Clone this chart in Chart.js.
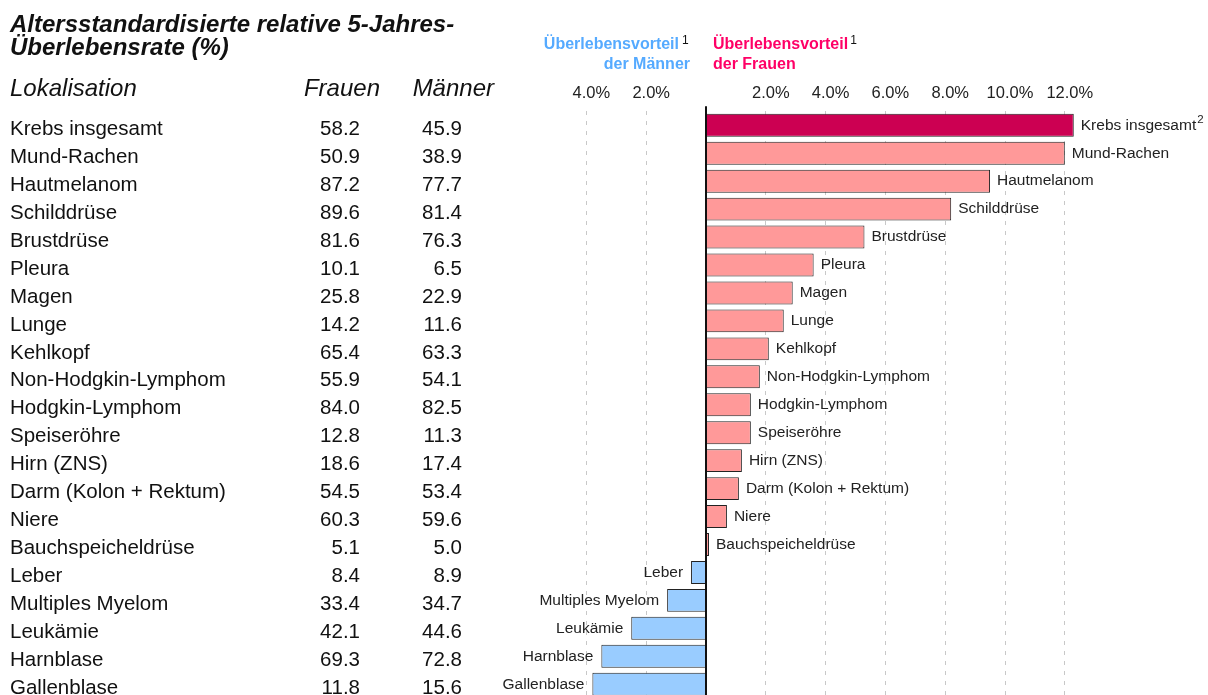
<!DOCTYPE html>
<html lang="de">
<head>
<meta charset="utf-8">
<title>Überlebensvorteil Frauen / Männer</title>
<script src="https://cdn.jsdelivr.net/npm/chart.js@4.4.1/dist/chart.umd.min.js"></script>
<style>
    html, body { margin: 0; padding: 0; background: #fff; overflow: hidden; }
    #wrap { width: 1208px; height: 700px; }
</style>
</head>
<body>
<div id="wrap"><canvas id="survivalChart" width="1208" height="700"></canvas></div>
<script>
const sites = ["Krebs insgesamt", "Mund-Rachen", "Hautmelanom", "Schilddrüse", "Brustdrüse", "Pleura",
    "Magen", "Lunge", "Kehlkopf", "Non-Hodgkin-Lymphom", "Hodgkin-Lymphom", "Speiseröhre", "Hirn (ZNS)",
    "Darm (Kolon + Rektum)", "Niere", "Bauchspeicheldrüse", "Leber", "Multiples Myelom", "Leukämie",
    "Harnblase", "Gallenblase"];
const women = [58.2, 50.9, 87.2, 89.6, 81.6, 10.1, 25.8, 14.2, 65.4, 55.9, 84.0, 12.8, 18.6, 54.5, 60.3, 5.1, 8.4, 33.4, 42.1, 69.3, 11.8];
const men = [45.9, 38.9, 77.7, 81.4, 76.3, 6.5, 22.9, 11.6, 63.3, 54.1, 82.5, 11.3, 17.4, 53.4, 59.6, 5.0, 8.9, 34.7, 44.6, 72.8, 15.6];
// Frauen minus Männer, Prozentpunkte
const advantage = [12.3, 12.0, 9.5, 8.2, 5.3, 3.6, 2.9, 2.6, 2.1, 1.8, 1.5, 1.5, 1.2, 1.1, 0.7, 0.1, -0.5, -1.3, -2.5, -3.5, -3.8];
const tickValues = [-4, -2, 0, 2, 4, 6, 8, 10, 12];
const tickLabels = ["4.0%", "2.0%", "", "2.0%", "4.0%", "6.0%", "8.0%", "10.0%", "12.0%"];

const FONT = '"Liberation Sans", Arial, Helvetica, sans-serif';
const BLUE = "#55aaff";
const PINK = "#ff0066";

function barColor(i){
    if(i === 0) return "#cc0052";
    return advantage[i] >= 0 ? "#ff9999" : "#99ccff";
}

const textPlugin = {
    id: "textPlugin",
    afterDatasetsDraw(chart){
        const ctx = chart.ctx;
        const area = chart.chartArea;
        const zero = chart.scales.x.getPixelForValue(0);
        const meta = chart.getDatasetMeta(0);

        ctx.save();
        // Nulllinie
        ctx.strokeStyle = "#111";
        ctx.lineWidth = 2;
        ctx.beginPath();
        ctx.moveTo(zero, area.top - 5);
        ctx.lineTo(zero, area.bottom);
        ctx.stroke();

        // Beschriftung an den Balken
        ctx.fillStyle = "#222";
        ctx.textBaseline = "middle";
        meta.data.forEach((bar, i) => {
            ctx.font = "15.5px " + FONT;
            if(advantage[i] >= 0){
                ctx.textAlign = "left";
                ctx.fillText(sites[i], bar.x + 7, bar.y);
                if(i === 0){
                    const w = ctx.measureText(sites[i]).width;
                    ctx.font = "11.5px " + FONT;
                    ctx.fillText("2", bar.x + 7 + w + 1, bar.y - 5);
                }
            } else {
                ctx.textAlign = "right";
                ctx.fillText(sites[i], bar.x - 8, bar.y);
            }
        });

        // Tabelle links
        ctx.font = "20.5px " + FONT;
        ctx.fillStyle = "#111";
        meta.data.forEach((bar, i) => {
            const y = bar.y + 4;
            ctx.textAlign = "left";
            ctx.fillText(sites[i], 10, y);
            ctx.textAlign = "right";
            ctx.fillText(women[i].toFixed(1), 360, y);
            ctx.fillText(men[i].toFixed(1), 462, y);
        });

        // Titel und Spaltenköpfe
        ctx.textBaseline = "alphabetic";
        ctx.textAlign = "left";
        ctx.font = "italic bold 24px " + FONT;
        ctx.fillText("Altersstandardisierte relative 5-Jahres-", 10, 32);
        ctx.fillText("Überlebensrate (%)", 10, 55);
        ctx.font = "italic 24px " + FONT;
        ctx.fillText("Lokalisation", 10, 96);
        ctx.textAlign = "right";
        ctx.fillText("Frauen", 380, 96);
        ctx.fillText("Männer", 494, 96);

        // Legendenköpfe
        ctx.font = "bold 16px " + FONT;
        ctx.fillStyle = BLUE;
        ctx.textAlign = "right";
        ctx.fillText("Überlebensvorteil", 679, 48.7);
        ctx.fillText("der Männer", 690, 68.7);
        ctx.fillStyle = PINK;
        ctx.textAlign = "left";
        ctx.fillText("Überlebensvorteil", 713, 48.7);
        const pw = ctx.measureText("Überlebensvorteil").width;
        ctx.fillText("der Frauen", 713, 68.7);
        ctx.font = "12px " + FONT;
        ctx.fillStyle = "#111";
        ctx.fillText("1", 682, 44);
        ctx.fillText("1", 713 + pw + 2, 44);
        ctx.restore();
    }
};

const ctx = document.getElementById("survivalChart").getContext("2d");
new Chart(ctx, {
    type: "bar",
    data: {
        labels: sites,
        datasets: [{
            data: advantage,
            backgroundColor: advantage.map((v, i) => barColor(i)),
            borderColor: "#222",
            borderWidth: 1,
            categoryPercentage: 1,
            barPercentage: 0.82
        }]
    },
    options: {
        indexAxis: "y",
        responsive: false,
        animation: false,
        layout: { padding: { top: 75.5, left: 526.6, right: 83.4, bottom: 1.8 } },
        plugins: {
            legend: { display: false },
            tooltip: { enabled: false }
        },
        scales: {
            x: {
                position: "top",
                min: -6,
                max: 14,
                afterBuildTicks: axis => { axis.ticks = tickValues.map(v => ({ value: v })); },
                ticks: {
                    callback: (value, index) => tickLabels[index],
                    color: "#222",
                    font: { family: FONT, size: 16.5 },
                    padding: 8,
                    labelOffset: 5,
                    maxRotation: 0,
                    autoSkip: false
                },
                grid: {
                    color: c => (c.tick && c.tick.value === 0) ? "rgba(0,0,0,0)" : "#c8c8c8",
                    lineWidth: 1,
                    drawTicks: false
                },
                border: { display: false, dash: [4, 6] }
            },
            y: {
                display: false
            }
        }
    },
    plugins: [textPlugin]
});
</script>
</body>
</html>
